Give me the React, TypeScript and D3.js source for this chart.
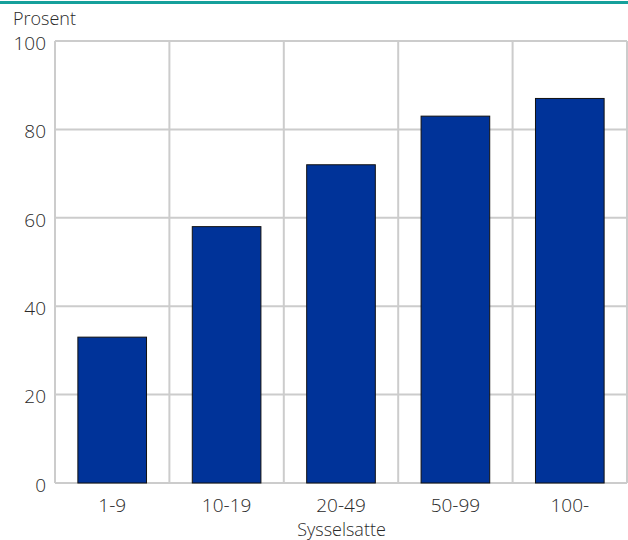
import * as d3 from "d3";

const categories = ["1-9", "10-19", "20-49", "50-99", "100-"];
const values = [33, 58, 72, 83, 87];
const yTicks = [0, 20, 40, 60, 80, 100];

const width = 628;
const height = 540;
const marginTop = 41;
const marginRight = 0;
const marginBottom = 56;
const marginLeft = 55;

const font = "'Open Sans', 'Noto Sans', sans-serif";
const textColor = "#2a2a2a";

const App = () => {
  const x = d3
    .scaleBand<string>()
    .domain(categories)
    .range([marginLeft, width - marginRight - 1])
    .paddingInner(0.4)
    .paddingOuter(0.2);

  const y = d3
    .scaleLinear()
    .domain([0, 100])
    .range([height - marginBottom - 1, marginTop]);

  const step = x.step();
  const gridX = d3.range(categories.length + 1).map((i) => marginLeft + i * step);

  return (
    <svg
      width={width}
      height={height}
      viewBox={`0 0 ${width} ${height}`}
      style={{ position: "absolute", left: 0, top: 0, background: "#fff" }}
      fontFamily={font}
      fontWeight={300}
    >
      <line x1={0} x2={width} y1={2.5} y2={2.5} stroke="#16a09b" strokeWidth={3} />

      {yTicks.map((t) => (
        <line
          key={"h" + t}
          x1={marginLeft}
          x2={width - 1}
          y1={y(t)}
          y2={y(t)}
          stroke="#cccccc"
          strokeWidth={2}
        />
      ))}
      {gridX.map((gx, i) => (
        <line
          key={"v" + i}
          x1={gx}
          x2={gx}
          y1={marginTop}
          y2={y(0)}
          stroke="#cccccc"
          strokeWidth={2}
        />
      ))}

      {categories.map((c, i) => (
        <rect
          key={c}
          x={x(c)}
          y={y(values[i])}
          width={x.bandwidth()}
          height={y(0) - y(values[i])}
          fill="#003399"
          stroke="#111"
          strokeWidth={1}
        />
      ))}

      {yTicks.map((t) => (
        <text
          key={"t" + t}
          x={46}
          y={y(t)}
          dy="0.46em"
          textAnchor="end"
          fontSize={19}
          fill={textColor}
        >
          {t}
        </text>
      ))}

      {categories.map((c) => (
        <text
          key={"l" + c}
          x={(x(c) as number) + x.bandwidth() / 2}
          y={512}
          textAnchor="middle"
          fontSize={19}
          fill={textColor}
        >
          {c}
        </text>
      ))}

      <text x={13} y={25} fontSize={18} fill={textColor}>
        Prosent
      </text>
      <text x={(marginLeft + width) / 2} y={536} textAnchor="middle" fontSize={18} fill={textColor}>
        Sysselsatte
      </text>
    </svg>
  );
};

export default App;
